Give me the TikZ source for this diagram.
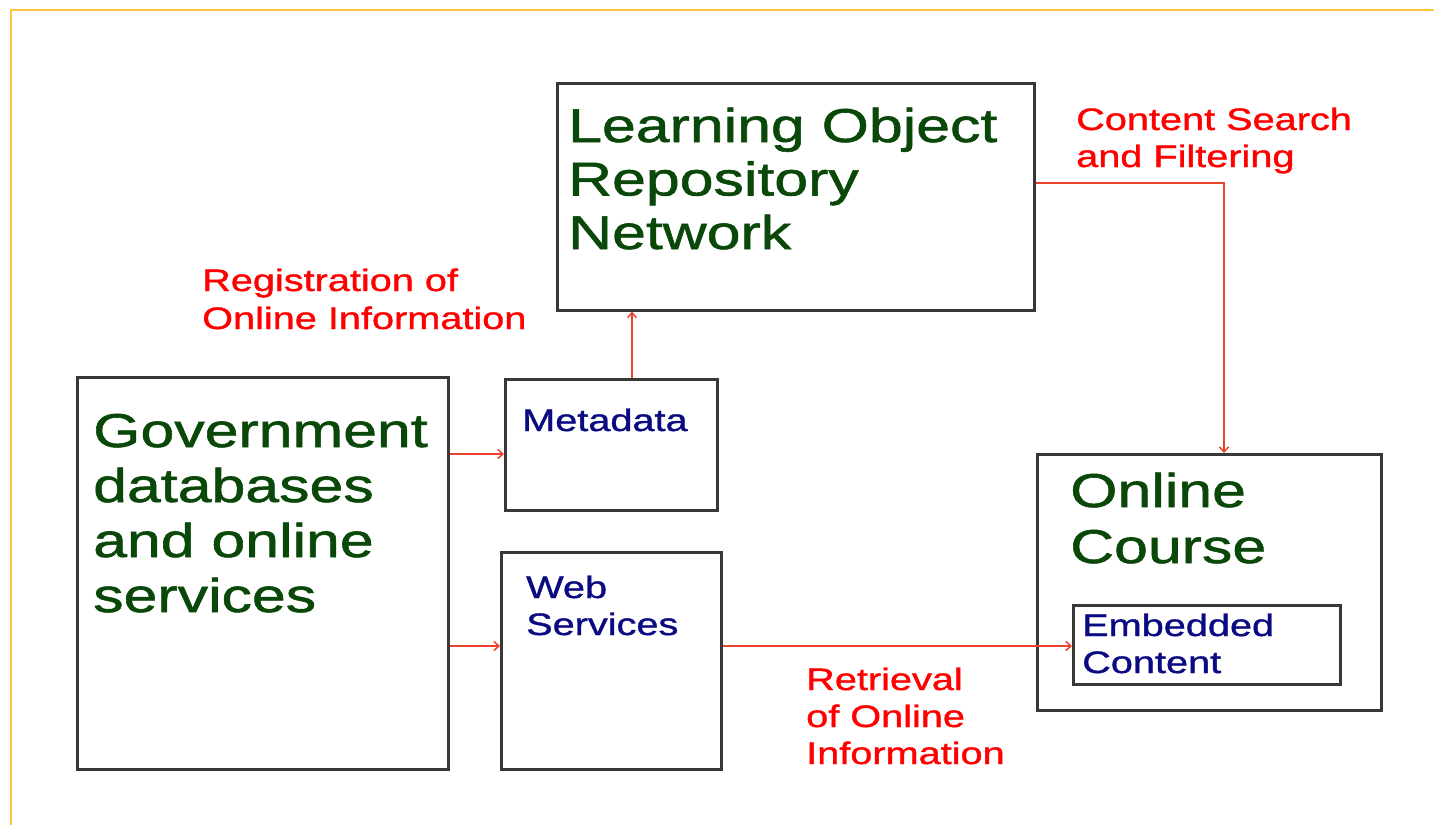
\documentclass[tikz,border=0pt]{standalone}
\usepackage{fontspec}
\setmainfont{Liberation Sans}[FakeStretch=1.28,FakeBold=1.2]
\usetikzlibrary{arrows.meta,calc}
\definecolor{tgreen}{RGB}{10,72,10}
\definecolor{tblue}{RGB}{10,10,130}
\definecolor{tred}{RGB}{255,0,0}
\definecolor{arrred}{RGB}{235,65,45}
\definecolor{gold}{RGB}{255,200,60}
\begin{document}
\begin{tikzpicture}[x=1pt,y=-1pt,
  box/.style={draw=black!78, line width=2.6pt, inner sep=0pt, anchor=north west},
  big/.style={font=\fontsize{47.5}{54}\selectfont, text=tgreen, inner sep=0pt, anchor=base west},
  small/.style={font=\fontsize{31}{37}\selectfont, text=tblue, inner sep=0pt, anchor=base west},
  lab/.style={font=\fontsize{31}{37}\selectfont, text=tred, inner sep=0pt, anchor=base west},
  arr/.style={draw=arrred, line width=1.5pt, -{Straight Barb[length=5pt,width=9pt]}}]
\useasboundingbox (0,0) rectangle (1434,825);
\fill[white] (0,0) rectangle (1434,825);
\draw[gold, line width=2.5pt] (11,825) -- (11,10) -- (1434,10);
% boxes
\node[box, minimum width=371pt, minimum height=392pt] (gov) at (76,376) {};
\node[box, minimum width=212pt, minimum height=131pt] (meta) at (504,378) {};
\node[box, minimum width=220pt, minimum height=217pt] (web) at (500,551) {};
\node[box, minimum width=477pt, minimum height=227pt] (lor) at (556,82) {};
\node[box, minimum width=344pt, minimum height=256pt] (oc) at (1036,453) {};
\node[box, minimum width=267pt, minimum height=79pt] (emb) at (1072,604) {};
% texts
\node[big] (lorA) at (568,142) {Learning Object};
\node[big] (lorB) at (568,195.5) {Repository};
\node[big] (lorC) at (568,249) {Network};
\node[big] (govA) at (93,447) {Government};
\node[big] (govB) at (93,502) {databases};
\node[big] (govC) at (93,557) {and online};
\node[big] (govD) at (93,612) {services};
\node[big] (ocA) at (1070,507) {Online};
\node[big] (ocB) at (1070,563) {Course};
\node[small] (metaA) at (522,431) {Metadata};
\node[small] (webA) at (526,598) {Web};
\node[small] (webB) at (526,635) {Services};
\node[small] (embA) at (1082,636) {Embedded};
\node[small] (embB) at (1082,673) {Content};
\node[lab] (csA) at (1076,130) {Content Search};
\node[lab] (csB) at (1076,167) {and Filtering};
\node[lab] (regA) at (202,291) {Registration of};
\node[lab] (regB) at (202,329) {Online Information};
\node[lab] (retA) at (806,690) {Retrieval};
\node[lab] (retB) at (806,727) {of Online};
\node[lab] (retC) at (806,764) {Information};
% connectors
\draw[arr] ([yshift=-78pt]gov.north east) -- ([yshift=-78pt]gov.north east -| meta.west);
\draw[arr] ([yshift=-270pt]gov.north east) -- ([yshift=-270pt]gov.north east -| web.west);
\draw[arr] ([xshift=128pt]meta.north west) -- ([xshift=128pt]meta.north west |- lor.south);
\draw[arr] ([yshift=-101pt]lor.north east) -| ([xshift=188pt]oc.north west);
\draw[arr] ([yshift=-95pt]web.north east) -- ([yshift=-95pt]web.north east -| emb.west);
\end{tikzpicture}
\end{document}
